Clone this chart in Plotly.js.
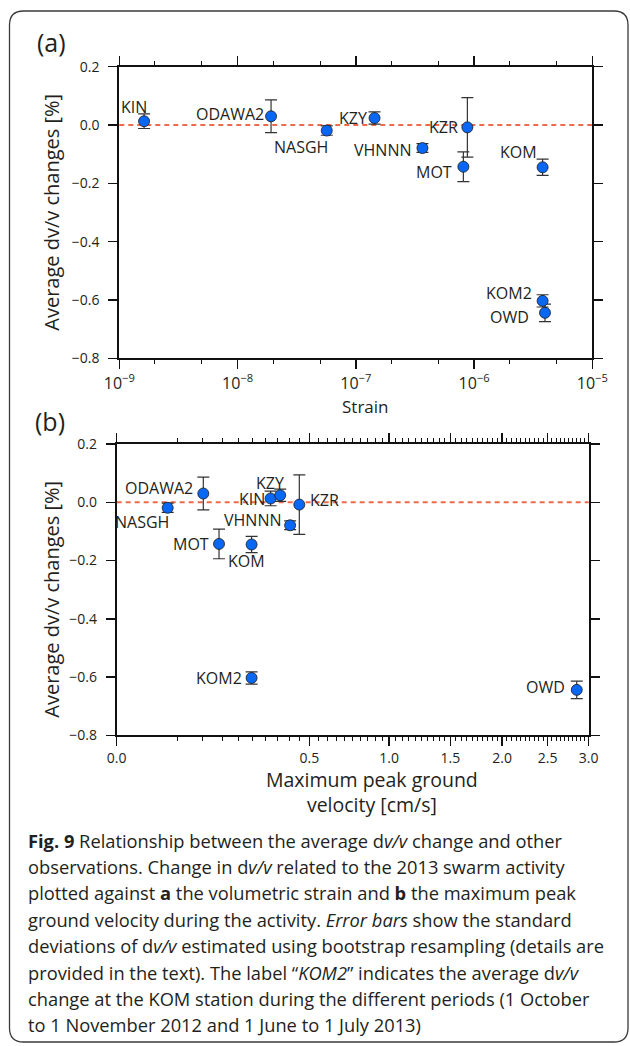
<!DOCTYPE html>
<html><head><meta charset="utf-8">
<script src="https://cdn.plot.ly/plotly-3.0.1.min.js"></script>
<style>html,body{margin:0;padding:0;background:#fff;} #chart{width:630px;height:1046px;}</style>
</head><body><div id="chart"></div>
<script>
// ---------------- data ----------------
const stations = ['KIN','ODAWA2','NASGH','KZY','VHNNN','MOT','KZR','KOM','KOM2','OWD'];
const dvv      = [0.013, 0.030, -0.019, 0.024, -0.079, -0.143, -0.008, -0.145, -0.603, -0.644];
const dvvErr   = [0.025, 0.056, 0.016, 0.021, 0.015, 0.051, 0.102, 0.028, 0.021, 0.030];
const strain   = [1.62e-9, 1.92e-8, 5.68e-8, 1.44e-7, 3.66e-7, 8.12e-7, 8.78e-7, 3.80e-6, 3.80e-6, 3.98e-6];
const pgv      = [0.319, 0.101, 0.035, 0.360, 0.405, 0.141, 0.449, 0.245, 0.245, 2.850];

const yTicks = [-0.8, -0.6, -0.4, -0.2, 0.0, 0.2];
const strainTicks = [1e-9, 1e-8, 1e-7, 1e-6, 1e-5];
const strainTickLabels = ['10<sup>\u22129</sup>','10<sup>\u22128</sup>','10<sup>\u22127</sup>','10<sup>\u22126</sup>','10<sup>\u22125</sup>'];
const strainMinor = [2e-9,5e-9,2e-8,5e-8,2e-7,5e-7,2e-6,5e-6];
const pgvTicks = [0, 0.5, 1.0, 1.5, 2.0, 2.5, 3.0];
const pgvTickLabels = ['0.0','0.5','1.0','1.5','2.0','2.5','3.0'];

const yTitle = 'Average dv/v changes [%]';
const xTitleA = 'Strain';
const xTitleB = 'Maximum peak ground<br>velocity [cm/s]';
const captionLines = [
  '<b>Fig. 9</b> Relationship between the average d<i>v/v</i> change and other',
  'observations. Change in d<i>v/v</i> related to the 2013 swarm activity',
  'plotted against <b>a</b> the volumetric strain and <b>b</b> the maximum peak',
  'ground velocity during the activity. <i>Error bars</i> show the standard',
  'deviations of d<i>v/v</i> estimated using bootstrap resampling (details are',
  'provided in the text). The label \u201c<i>KOM2</i>\u201d indicates the average d<i>v/v</i>',
  'change at the KOM station during the different periods (1 October',
  'to 1 November 2012 and 1 June to 1 July 2013)'
];

// ---------------- styling ----------------
const W = 630, H = 1046;
const px = v => v / W;
const py = v => 1 - v / H;
const FONT = 'Open Sans, Noto Sans, sans-serif';
const INK = '#231f20';
const AX = '#111111';

// label placement (anchor, x shift px, y shift px) per station, per panel
const labA = {
  KIN:['center',-10,14.6], ODAWA2:['right',-5.3,2.3], NASGH:['right',3.3,-16], KZY:['right',-6,0],
  VHNNN:['right',-9,-1.7], KZR:['right',-7,0.6], MOT:['right',-9,-5], KOM:['right',-3.3,15.6],
  KOM2:['right',-8.6,8.3], OWD:['right',-14.3,-4]
};
const labB = {
  KIN:['right',-4,-1], ODAWA2:['right',-8.3,6], NASGH:['right',3.3,-14], KZY:['center',-10,12],
  VHNNN:['right',-6.7,5], MOT:['right',-8,0], KZR:['left',9,5], KOM:['center',-4.7,-16.4],
  KOM2:['right',-8,0], OWD:['right',-10,3]
};

const pgvMinor = [];
for (let k = 1; k < 60; k++) { if (k % 10 !== 0) pgvMinor.push(Math.sqrt(k * 0.05)); }

const marker = {size: 11, color: '#0868f5', line: {color: '#1a1a1a', width: 0.8}};
const errStyle = arr => ({type: 'data', array: arr, visible: true, color: '#333333', thickness: 1.2, width: 6});

const traces = [
  {type: 'scatter', mode: 'markers', x: strain, y: dvv, xaxis: 'x', yaxis: 'y',
   marker: marker, error_y: errStyle(dvvErr), hoverinfo: 'skip', cliponaxis: false},
  {type: 'scatter', mode: 'markers', x: pgv.map(Math.sqrt), y: dvv, xaxis: 'x2', yaxis: 'y2',
   marker: marker, error_y: errStyle(dvvErr), hoverinfo: 'skip', cliponaxis: false},
  // invisible carriers so the minor-tick overlay axes are drawn
  {type: 'scatter', mode: 'markers', x: strain, y: dvv, xaxis: 'x3', yaxis: 'y',
   marker: {opacity: 0}, hoverinfo: 'skip'},
  {type: 'scatter', mode: 'markers', x: pgv.map(Math.sqrt), y: dvv, xaxis: 'x4', yaxis: 'y2',
   marker: {opacity: 0}, hoverinfo: 'skip'}
];

const baseAxis = {
  showline: true, linecolor: AX, linewidth: 2, mirror: 'allticks',
  ticks: 'outside', ticklen: 9, tickwidth: 1.5, tickcolor: AX,
  showgrid: false, zeroline: false, fixedrange: true
};
const minorAxis = {
  showline: false, showgrid: false, zeroline: false, showticklabels: false, fixedrange: true,
  ticks: 'outside', ticklen: 5, tickwidth: 1, tickcolor: AX, mirror: 'ticks', side: 'bottom',
  tickmode: 'array'
};
const yAxisCommon = Object.assign({}, baseAxis, {
  range: [-0.8, 0.2], tickmode: 'array', tickvals: yTicks, tickformat: '.1f',
  tickfont: {family: FONT, size: 14, color: INK}, ticklabelstandoff: 6
});

const annotations = [];
stations.forEach((s, i) => {
  const a = labA[s];
  annotations.push({xref: 'x', yref: 'y', x: Math.log10(strain[i]), y: dvv[i], text: s, showarrow: false,
    xanchor: a[0], yanchor: 'middle', xshift: a[1], yshift: a[2], font: {family: FONT, size: 16, color: INK}});
  const b = labB[s];
  annotations.push({xref: 'x2', yref: 'y2', x: Math.sqrt(pgv[i]), y: dvv[i], text: s, showarrow: false,
    xanchor: b[0], yanchor: 'middle', xshift: b[1], yshift: b[2], font: {family: FONT, size: 16, color: INK}});
});
// panel letters
annotations.push({xref:'paper', yref:'paper', x: px(51), y: py(42.5), text:'(a)', showarrow:false, xanchor:'center', yanchor:'middle', font:{family:FONT,size:25,color:INK}});
annotations.push({xref:'paper', yref:'paper', x: px(50), y: py(421), text:'(b)', showarrow:false, xanchor:'center', yanchor:'middle', font:{family:FONT,size:25,color:INK}});
// axis titles
annotations.push({xref:'paper', yref:'paper', x: px(52), y: py(212.7), text: yTitle, textangle: -90, showarrow:false, xanchor:'center', yanchor:'middle', font:{family:FONT,size:20,color:INK}});
annotations.push({xref:'paper', yref:'paper', x: px(52), y: py(599.7), text: yTitle, textangle: -90, showarrow:false, xanchor:'center', yanchor:'middle', font:{family:FONT,size:20,color:INK}});
annotations.push({xref:'paper', yref:'paper', x: px(365), y: py(406.7), text: xTitleA, showarrow:false, xanchor:'center', yanchor:'middle', font:{family:FONT,size:17,color:INK}});
annotations.push({xref:'paper', yref:'paper', x: px(372), y: py(791.7), text: xTitleB, showarrow:false, xanchor:'center', yanchor:'middle', align:'center', font:{family:FONT,size:19.5,color:INK}});
// caption
captionLines.forEach((t, i) => {
  annotations.push({xref:'paper', yref:'paper', x: px(25.5), y: py(840 + 26.4 * i), text: t, showarrow:false,
    xanchor:'left', yanchor:'middle', align:'left', font:{family:FONT, size:18.3, color:INK}});
});

// rounded border
const bx0 = 9.5, by0 = 11, bx1 = 628, by1 = 1042, r = 14;
const P = (x, y) => `${px(x)},${py(y)}`;
const borderPath = `M ${P(bx0 + r, by0)} L ${P(bx1 - r, by0)} Q ${P(bx1, by0)} ${P(bx1, by0 + r)} L ${P(bx1, by1 - r)} Q ${P(bx1, by1)} ${P(bx1 - r, by1)} L ${P(bx0 + r, by1)} Q ${P(bx0, by1)} ${P(bx0, by1 - r)} L ${P(bx0, by0 + r)} Q ${P(bx0, by0)} ${P(bx0 + r, by0)} Z`;

const domA = [px(119.3), px(592.3)], domB = [px(116.7), px(588.7)];
const layout = {
  width: W, height: H, margin: {l: 0, r: 0, t: 0, b: 0}, autosize: false,
  paper_bgcolor: '#ffffff', plot_bgcolor: '#ffffff', showlegend: false,
  font: {family: FONT, color: INK},
  xaxis: Object.assign({}, baseAxis, {
    type: 'log', range: [-9, -5], domain: domA, anchor: 'y',
    tickmode: 'array', tickvals: strainTicks, ticktext: strainTickLabels,
    tickfont: {family: FONT, size: 16, color: INK}
  }),
  xaxis3: Object.assign({}, minorAxis, {
    type: 'log', range: [-9, -5], domain: domA, anchor: 'y', overlaying: 'x', tickvals: strainMinor
  }),
  yaxis: Object.assign({}, yAxisCommon, {domain: [py(358.3), py(66.7)], anchor: 'x'}),
  xaxis2: Object.assign({}, baseAxis, {
    range: [0, Math.sqrt(3)], domain: domB, anchor: 'y2',
    tickmode: 'array', tickvals: pgvTicks.map(Math.sqrt), ticktext: pgvTickLabels,
    tickfont: {family: FONT, size: 14, color: INK}
  }),
  xaxis4: Object.assign({}, minorAxis, {
    range: [0, Math.sqrt(3)], domain: domB, anchor: 'y2', overlaying: 'x2', tickvals: pgvMinor
  }),
  yaxis2: Object.assign({}, yAxisCommon, {domain: [py(735.3), py(444)], anchor: 'x2'}),
  shapes: [
    {type: 'line', xref: 'x domain', yref: 'y', x0: 0, x1: 1, y0: 0, y1: 0, layer: 'below',
     line: {color: '#ee6a4c', width: 2, dash: '5px,4px'}},
    {type: 'line', xref: 'x2 domain', yref: 'y2', x0: 0, x1: 1, y0: 0, y1: 0, layer: 'below',
     line: {color: '#ee6a4c', width: 2, dash: '5px,4px'}},
    {type: 'path', xref: 'paper', yref: 'paper', path: borderPath, line: {color: '#3a3a3a', width: 1.3}}
  ],
  annotations: annotations
};

Plotly.newPlot('chart', traces, layout, {staticPlot: true, displayModeBar: false});
</script></body></html>
